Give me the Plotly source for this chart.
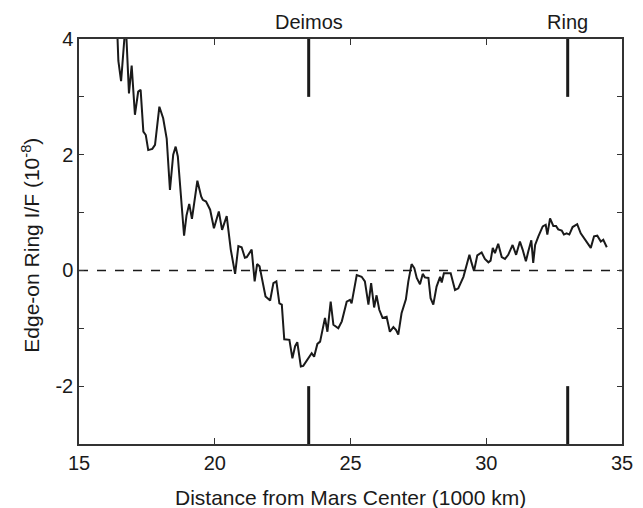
import plotly.graph_objects as go

# Data
distance_1000km = [16.38, 16.45, 16.55, 16.66, 16.72, 16.84, 16.94, 17.06, 17.18, 17.27,
                   17.37, 17.46, 17.55, 17.70, 17.80, 17.96, 18.10, 18.23, 18.35, 18.47,
                   18.56, 18.64, 18.87, 18.96, 19.06, 19.16, 19.36, 19.50, 19.56, 19.68,
                   19.83, 19.97, 20.15, 20.27, 20.44, 20.59, 20.75, 20.87, 20.99, 21.11,
                   21.18, 21.36, 21.47, 21.56, 21.65, 21.87, 22.04, 22.16, 22.27, 22.38,
                   22.47, 22.56, 22.75, 22.86, 22.96, 23.04, 23.17, 23.26, 23.45, 23.57,
                   23.66, 23.78, 23.88, 24.06, 24.15, 24.27, 24.37, 24.55, 24.68, 24.86,
                   24.98, 25.04, 25.23, 25.41, 25.53, 25.66, 25.76, 25.87, 25.96, 26.06,
                   26.18, 26.33, 26.45, 26.58, 26.68, 26.76, 26.88, 27.04, 27.13, 27.25,
                   27.35, 27.44, 27.56, 27.66, 27.74, 27.87, 27.95, 28.05, 28.17, 28.30,
                   28.36, 28.44, 28.60, 28.69, 28.85, 28.97, 29.16, 29.38, 29.46, 29.55,
                   29.67, 29.83, 29.95, 30.08, 30.16, 30.24, 30.32, 30.44, 30.57, 30.69,
                   30.81, 30.97, 31.10, 31.24, 31.34, 31.46, 31.55, 31.66, 31.73, 31.80,
                   31.92, 32.08, 32.19, 32.25, 32.35, 32.47, 32.57, 32.65, 32.78, 32.86,
                   32.96, 33.06, 33.18, 33.35, 33.48, 33.64, 33.85, 33.97, 34.09, 34.22,
                   34.31, 34.44]
ring_if = [4.5, 3.62, 3.27, 3.9, 4.3, 3.06, 3.54, 2.69, 3.09, 3.12,
           2.40, 2.34, 2.08, 2.10, 2.17, 2.83, 2.63, 2.28, 1.39, 2.00,
           2.14, 1.97, 0.60, 0.95, 1.15, 0.89, 1.55, 1.28, 1.22, 1.19,
           1.05, 0.73, 1.02, 0.70, 0.94, 0.36, -0.06, 0.42, 0.40, 0.22,
           0.23, 0.36, -0.19, 0.11, 0.07, -0.45, -0.52, -0.22, -0.19, -0.57,
           -0.59, -1.19, -1.20, -1.52, -1.31, -1.24, -1.66, -1.65, -1.52, -1.43,
           -1.49, -1.27, -1.23, -0.82, -1.06, -0.54, -0.94, -1.00, -0.88, -0.54,
           -0.51, -0.57, -0.08, -0.11, -0.19, -0.59, -0.22, -0.64, -0.43, -0.68,
           -0.82, -0.80, -1.06, -0.98, -1.03, -1.11, -0.74, -0.50, -0.19, 0.11,
           0.04, -0.13, -0.24, -0.06, -0.12, -0.13, -0.48, -0.59, -0.28, -0.11,
           -0.21, -0.05, -0.05, -0.05, -0.34, -0.31, -0.11, 0.27, 0.13, -0.01,
           0.26, 0.31, 0.20, 0.14, 0.17, 0.39, 0.30, 0.46, 0.23, 0.20,
           0.27, 0.44, 0.27, 0.50, 0.36, 0.16, 0.33, 0.52, 0.13, 0.44,
           0.59, 0.76, 0.79, 0.62, 0.90, 0.77, 0.77, 0.71, 0.69, 0.62,
           0.64, 0.62, 0.75, 0.80, 0.64, 0.54, 0.39, 0.59, 0.60, 0.50,
           0.53, 0.40]

marker_names = ["Deimos", "Ring"]
marker_positions = [23.46, 33.0]

x_tickvals = [15, 20, 25, 30, 35]
y_tickvals = [-2, 0, 2, 4]
y_ticktext = ["-2", "0", "2", "4"]

x_title = "Distance from Mars Center (1000 km)"
y_title = "Edge-on Ring I/F (10<sup>-8</sup>)"

FONT = "Liberation Sans, Arial, Helvetica, sans-serif"
INK = "#1a1a1a"

fig = go.Figure()

# zero reference line
fig.add_trace(go.Scatter(x=[15, 35], y=[0, 0], mode="lines",
                         line=dict(color=INK, width=1.5, dash="dash"),
                         hoverinfo="skip", showlegend=False))

fig.add_trace(go.Scatter(x=distance_1000km, y=ring_if, mode="lines",
                         line=dict(color=INK, width=2),
                         showlegend=False))

shapes = []
annotations = []
for name, pos in zip(marker_names, marker_positions):
    shapes.append(dict(type="line", xref="x", yref="y", x0=pos, x1=pos, y0=3, y1=4,
                       line=dict(color=INK, width=3)))
    shapes.append(dict(type="line", xref="x", yref="y", x0=pos, x1=pos, y0=-3, y1=-2,
                       line=dict(color=INK, width=3)))
    annotations.append(dict(x=pos, xref="x", y=1, yref="paper", yanchor="bottom",
                            yshift=4, text=name, showarrow=False,
                            font=dict(family=FONT, size=20, color=INK)))

# axis titles as annotations for exact placement
annotations.append(dict(x=0.5, xref="paper", y=-0.131, yref="paper",
                        xanchor="center", yanchor="middle", text=x_title,
                        showarrow=False, font=dict(family=FONT, size=21, color=INK)))
annotations.append(dict(x=-0.09, xref="paper", y=0.49, yref="paper",
                        xanchor="center", yanchor="middle", text=y_title,
                        textangle=-90, showarrow=False,
                        font=dict(family=FONT, size=21, color=INK)))

fig.update_layout(
    width=643, height=508,
    margin=dict(l=79, r=21, t=39, b=64),
    paper_bgcolor="white", plot_bgcolor="white",
    font=dict(family=FONT, size=20, color=INK),
    shapes=shapes, annotations=annotations,
    xaxis=dict(range=[15, 35], tickvals=x_tickvals, ticks="inside", ticklen=6,
               tickwidth=1, tickcolor="#333", showline=True, linecolor="#333",
               linewidth=1.5, mirror="ticks", showgrid=False, zeroline=False,
               tickfont=dict(size=20), automargin=False),
    yaxis=dict(range=[-3, 4], tickvals=y_tickvals, ticktext=y_ticktext,
               ticks="inside", ticklen=5, tickwidth=1, tickcolor="#333",
               minor=dict(dtick=1, ticks="inside", ticklen=5, tickwidth=1,
                          tickcolor="#333", showgrid=False),
               showline=True, linecolor="#333", linewidth=1.5, mirror="ticks",
               showgrid=False, zeroline=False, tickfont=dict(size=20),
               automargin=False),
)

fig.write_html("out.html")
